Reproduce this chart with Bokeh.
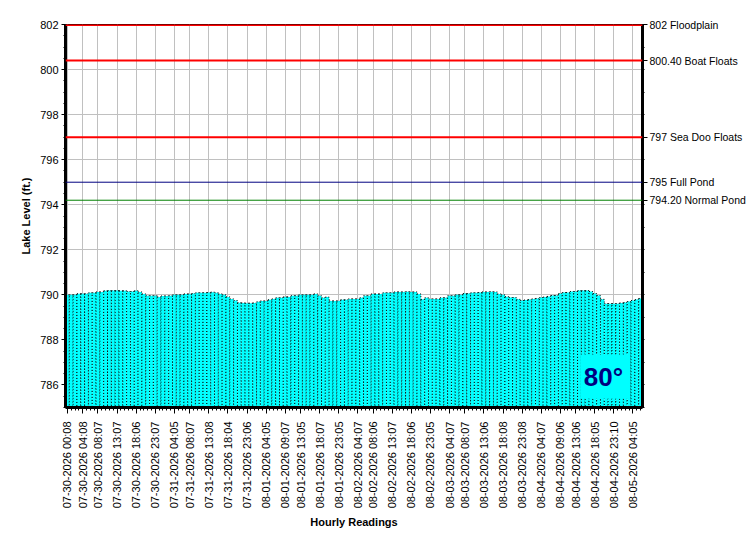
import math
from bokeh.plotting import figure
from bokeh.models import Range1d, LinearAxis, FixedTicker, Span, BoxAnnotation, Label
from bokeh.embed import file_html
from bokeh.resources import INLINE

# Hourly lake level readings (ft.), 07-30-2026 00:08 onward
LEVELS = [
    790.00, 790.00, 790.00, 790.05, 790.05, 790.05, 790.09, 790.09, 790.13, 790.13,
    790.18, 790.19, 790.19, 790.19, 790.18, 790.18, 790.15, 790.15, 790.18, 790.13,
    790.04, 789.96, 789.96, 789.96, 789.91, 789.95, 789.95, 789.96, 790.00, 790.00,
    790.00, 790.04, 790.04, 790.06, 790.09, 790.09, 790.09, 790.10, 790.12, 790.09,
    790.04, 790.00, 789.91, 789.82, 789.75, 789.65, 789.64, 789.63, 789.63, 789.64,
    789.69, 789.73, 789.73, 789.78, 789.82, 789.87, 789.87, 789.91, 789.91, 789.96,
    789.96, 790.00, 790.00, 790.00, 790.00, 790.04, 789.96, 789.87, 789.90, 789.73,
    789.73, 789.73, 789.78, 789.78, 789.82, 789.82, 789.82, 789.87, 789.96, 789.96,
    790.04, 790.04, 790.04, 790.09, 790.09, 790.09, 790.13, 790.13, 790.13, 790.14,
    790.13, 790.13, 790.04, 789.80, 789.87, 789.82, 789.82, 789.82, 789.87, 789.87,
    789.96, 789.96, 790.00, 790.00, 790.06, 790.06, 790.09, 790.09, 790.10, 790.13,
    790.13, 790.14, 790.13, 790.04, 790.00, 789.92, 789.88, 789.88, 789.80, 789.75,
    789.77, 789.79, 789.82, 789.84, 789.88, 789.90, 789.93, 789.97, 789.97, 790.06,
    790.10, 790.10, 790.15, 790.15, 790.19, 790.19, 790.19, 790.15, 790.06, 789.97,
    789.80, 789.61, 789.61, 789.61, 789.61, 789.64, 789.66, 789.70, 789.75, 789.79,
    789.84,
]

TICK_INDEX = [0, 4, 8, 13, 18, 23, 28, 32, 37, 42, 47, 52, 57, 61, 66, 71, 76, 80,
              85, 90, 95, 100, 104, 109, 114, 119, 124, 129, 133, 138, 143, 148]
TICK_LABELS = [
    "07-30-2026 00:08", "07-30-2026 04:08", "07-30-2026 08:07", "07-30-2026 13:07",
    "07-30-2026 18:06", "07-30-2026 23:07", "07-31-2026 04:05", "07-31-2026 08:07",
    "07-31-2026 13:08", "07-31-2026 18:04", "07-31-2026 23:06", "08-01-2026 04:05",
    "08-01-2026 09:07", "08-01-2026 13:05", "08-01-2026 18:07", "08-01-2026 23:05",
    "08-02-2026 04:07", "08-02-2026 08:06", "08-02-2026 13:07", "08-02-2026 18:06",
    "08-02-2026 23:05", "08-03-2026 04:07", "08-03-2026 08:07", "08-03-2026 13:06",
    "08-03-2026 18:08", "08-03-2026 23:08", "08-04-2026 04:07", "08-04-2026 09:06",
    "08-04-2026 13:06", "08-04-2026 18:05", "08-04-2026 23:10", "08-05-2026 04:05",
]

Y_MIN, Y_MAX = 785, 802
Y_TICKS = [786, 788, 790, 792, 794, 796, 798, 800, 802]

REF_VALUES = [802, 800.4, 797, 795, 794.2]
REF_NAMES = ["802 Floodplain", "800.40 Boat Floats", "797 Sea Doo Floats",
             "795 Full Pond", "794.20 Normal Pond"]
REF_COLORS = ["#FF0000", "#FF0000", "#FF0000", "#000080", "#008000"]
REF_WIDTHS = [3, 2, 2, 1, 1]

TEMP_TEXT = "80°"
TEMP_BOX = dict(left=134.3, right=146.8, bottom=785.39, top=787.35)
TEMP_POS = (140.3, 786.35)

FONT = "Liberation Sans"

x = list(range(len(LEVELS)))

p = figure(width=750, height=550, output_backend="svg", toolbar_location=None,
           x_range=Range1d(-0.5, len(LEVELS) - 0.5), y_range=Range1d(Y_MIN, Y_MAX),
           min_border_left=65, min_border_right=108, min_border_top=24,
           min_border_bottom=143)
p.background_fill_color = "white"
p.border_fill_color = "white"
p.outline_line_color = "black"
p.outline_line_width = 1

p.vbar(x=x, top=LEVELS, bottom=Y_MIN, width=1.0, fill_color="#00FFFF",
       line_color="black", line_dash="1 2", line_width=1)

for v, c, w in zip(REF_VALUES, REF_COLORS, REF_WIDTHS):
    p.add_layout(Span(location=v, dimension="width", line_color=c, line_width=w))

# grids
p.xgrid.ticker = FixedTicker(ticks=TICK_INDEX)
p.ygrid.ticker = FixedTicker(ticks=Y_TICKS)
for g in (p.xgrid, p.ygrid):
    g.grid_line_color = "#C0C0C0"
    g.grid_line_width = 1

# bottom axis
xa = p.xaxis[0]
xa.ticker = FixedTicker(ticks=TICK_INDEX, minor_ticks=x)
xa.major_label_overrides = dict(zip(TICK_INDEX, TICK_LABELS))
xa.major_label_orientation = math.pi / 2
xa.axis_label = "Hourly Readings"

# left axis
ya = p.yaxis[0]
ya.ticker = FixedTicker(ticks=Y_TICKS, minor_ticks=[Y_MIN + 0.5 * k for k in range(35)])
ya.axis_label = "Lake Level (ft.)"

# right axis
ra = LinearAxis(ticker=FixedTicker(ticks=REF_VALUES, minor_ticks=list(range(Y_MIN, Y_MAX + 1))),
                major_label_overrides=dict(zip(REF_VALUES, REF_NAMES)))
p.add_layout(ra, "right")

for ax in (xa, ya, ra):
    ax.axis_line_color = "black"
    ax.axis_line_width = 3
    ax.major_tick_line_color = "black"
    ax.minor_tick_line_color = "black"
    ax.major_tick_in = 0
    ax.minor_tick_in = 0
    ax.major_label_text_font = FONT
    ax.major_label_text_font_size = "11px"
    ax.major_label_text_color = "black"
    ax.axis_label_text_font = FONT
    ax.axis_label_text_font_size = "11px"
    ax.axis_label_text_font_style = "bold"
    ax.axis_label_text_color = "black"

ra.major_label_text_font_size = "10.5px"

xa.major_tick_out = 6
xa.minor_tick_out = 3
xa.major_label_standoff = 8
xa.axis_label_standoff = 5
ya.major_tick_out = 4
ya.minor_tick_out = 2
ya.major_label_standoff = 3
ya.axis_label_standoff = 5
ra.major_tick_out = 5
ra.minor_tick_out = 2
ra.major_label_standoff = 2

p.add_layout(BoxAnnotation(fill_color="#00FFFF", fill_alpha=1.0, line_color=None, **TEMP_BOX))
p.add_layout(Label(x=TEMP_POS[0], y=TEMP_POS[1], text=TEMP_TEXT, text_align="center",
                   text_baseline="middle", text_font=FONT, text_font_size="26px",
                   text_font_style="bold", text_color="#000080"))

open("out.html", "w", encoding="utf-8").write(file_html(p, INLINE))
